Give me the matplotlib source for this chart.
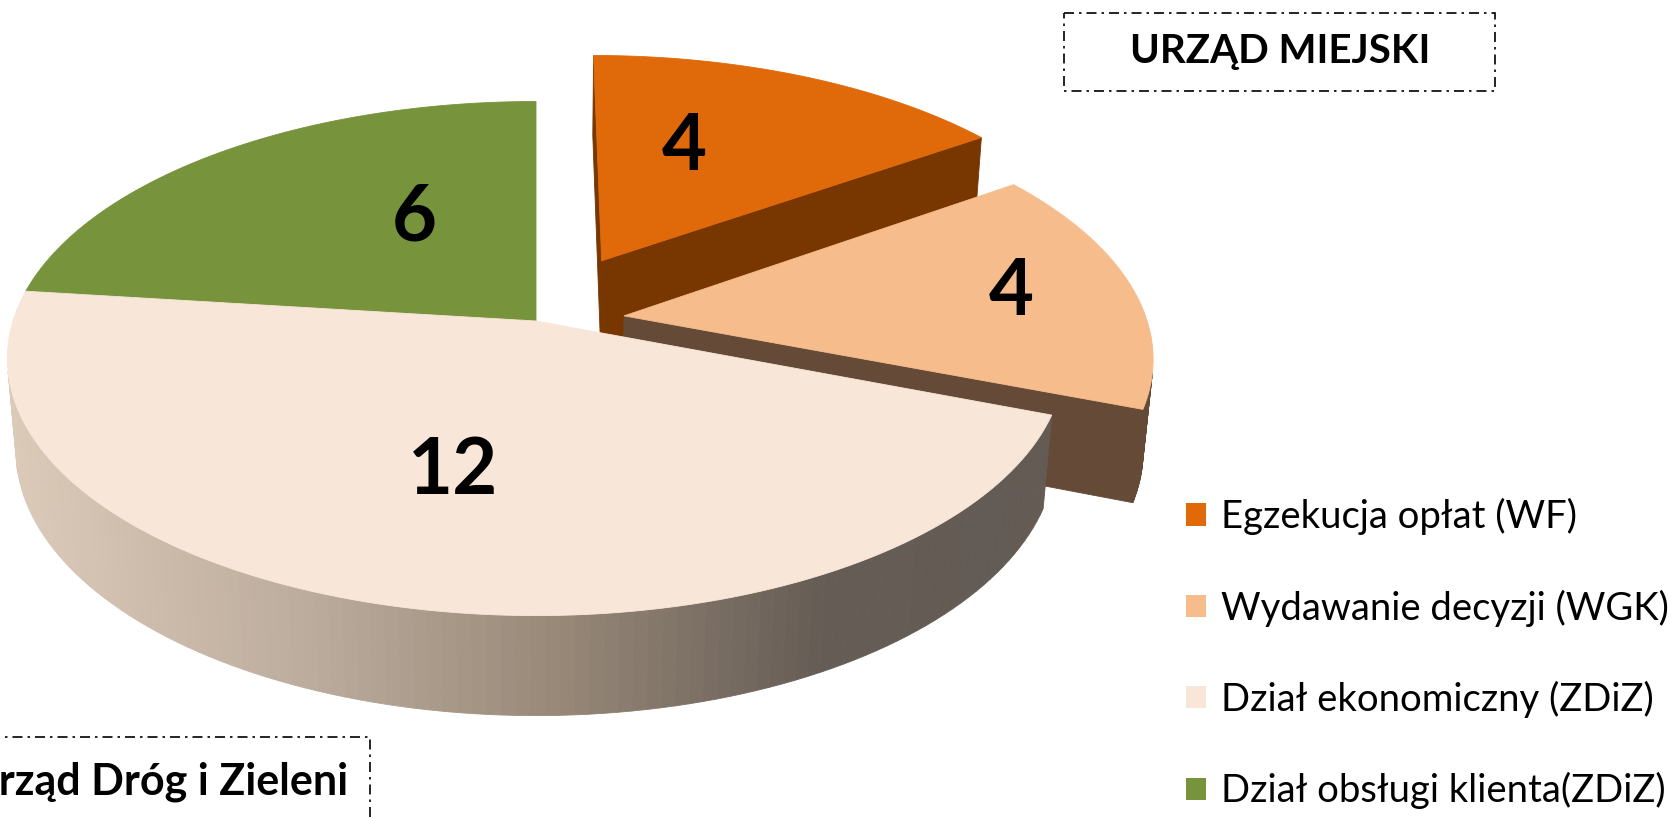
import numpy as np
import matplotlib.pyplot as plt
from matplotlib.patches import Polygon, Patch, Rectangle
from matplotlib.colors import to_rgb

plt.rcParams['font.family'] = ['Lato', 'DejaVu Sans']

labels = ["Egzekucja opłat (WF)", "Wydawanie decyzji (WGK)",
          "Dział ekonomiczny (ZDiZ)", "Dział obsługi klienta(ZDiZ)"]
values = [4, 4, 12, 6]
top_colors = ["#e0690a", "#f6bc8c", "#f8e6d8", "#77933c"]
side_colors = ["#783600", "#654b37", None, "#4d6126"]
explode = [0.28, 0.17, 0.0, 0.0]
label_r = [0.55, 0.76, 0.57, 0.5]
label_da = [8, 0, -1, -12]

# cream side gradient (screen x -> colour)
grad_x = [13, 300, 560, 820, 1200]
grad_c = ["#dccab9", "#bdad9e", "#978878", "#655c55", "#615a54"]

# fake 3d camera (pixel space of the 1680x819 figure)
cx, cy, s = 536, 321, 523
sp = 0.481
cp = np.sqrt(1 - sp**2)
D = 6.0
h = 0.2
eye = np.array([0.0, -D * cp, D * sp])


def proj(X, Y, Z):
    u = X
    v = Y * sp + Z * cp
    w = Y * cp - Z * sp
    k = s / (1 + w / D)
    return cx + k * u, cy - k * v


def visible(normal, point):
    return np.dot(normal, eye - point) > 0


def grad_color(x):
    cols = np.array([to_rgb(c) for c in grad_c])
    return tuple(np.interp(x, grad_x, cols[:, i]) for i in range(3))


fig = plt.figure(figsize=(16.8, 8.19), dpi=100)
ax = fig.add_axes([0, 0, 1, 1])
ax.set_xlim(0, 1680)
ax.set_ylim(819, 0)
ax.axis('off')

total = float(sum(values))
starts = 90 - 360 * np.concatenate([[0], np.cumsum(values)[:-1]]) / total
ends = starts - 360 * np.array(values) / total

for i in [3, 0, 1, 2]:
    a0, a1 = np.radians(starts[i]), np.radians(ends[i])
    mid = (a0 + a1) / 2
    ox, oy = explode[i] * np.cos(mid), explode[i] * np.sin(mid)
    th = np.linspace(a0, a1, 120)

    def P(r, t, z):
        return proj(ox + r * np.cos(t), oy + r * np.sin(t), z)

    # outer curved wall
    for j in range(len(th) - 1):
        t1, t2 = th[j], th[j + 1]
        tm = (t1 + t2) / 2
        n = np.array([np.cos(tm), np.sin(tm), 0])
        pt = np.array([ox + np.cos(tm), oy + np.sin(tm), -h / 2])
        if not visible(n, pt):
            continue
        quad = [P(1, t1, 0), P(1, t2, 0), P(1, t2, -h), P(1, t1, -h)]
        if side_colors[i] is None:
            col = grad_color(np.mean([q[0] for q in quad]))
        else:
            col = side_colors[i]
        ax.add_patch(Polygon(quad, closed=True, fc=col, ec=col, lw=0.6))

    # radial walls
    for t, n in [(a0, np.array([-np.sin(a0), np.cos(a0), 0])),
                 (a1, np.array([np.sin(a1), -np.cos(a1), 0]))]:
        pt = np.array([ox + 0.5 * np.cos(t), oy + 0.5 * np.sin(t), -h / 2])
        if not visible(n, pt):
            continue
        face = [P(0, t, 0), P(1, t, 0), P(1, t, -h), P(0, t, -h)]
        col = side_colors[i] if side_colors[i] else grad_color(face[1][0])
        ax.add_patch(Polygon(face, closed=True, fc=col, ec=col, lw=0.6))

    # top
    top = [P(0, a0, 0)] + [P(1, t, 0) for t in th]
    ax.add_patch(Polygon(top, closed=True, fc=top_colors[i],
                         ec=top_colors[i], lw=0.6))

    la = mid + np.radians(label_da[i])
    lx, ly = P(label_r[i], la, 0)
    ax.text(lx, ly, str(values[i]), ha='center', va='center',
            fontsize=56, fontweight='bold', color='black')

# boxes
ax.add_patch(Rectangle((1064, 13), 431, 78, fc='white', ec='black',
                       lw=1.2, ls=(0, (6, 3, 1.5, 3))))
ax.text(1280, 52, "URZĄD MIEJSKI", ha='center', va='center',
        fontsize=29, fontweight='bold')
ax.add_patch(Rectangle((-10, 737), 380, 100, fc='white', ec='black',
                       lw=1.2, ls=(0, (6, 3, 1.5, 3)), clip_on=True))
ax.text(348, 782, "Zarząd Dróg i Zieleni", ha='right', va='center',
        fontsize=31, fontweight='bold')

handles = [Patch(fc=c, ec='none') for c in top_colors]
fig.legend(handles, labels, loc='upper left', bbox_to_anchor=(0.706, 0.392),
           frameon=False, fontsize=27.5, handlelength=0.52, handleheight=0.52,
           handletextpad=0.4, labelspacing=1.42, borderpad=0, borderaxespad=0)

fig.savefig('out.png', dpi=100)
